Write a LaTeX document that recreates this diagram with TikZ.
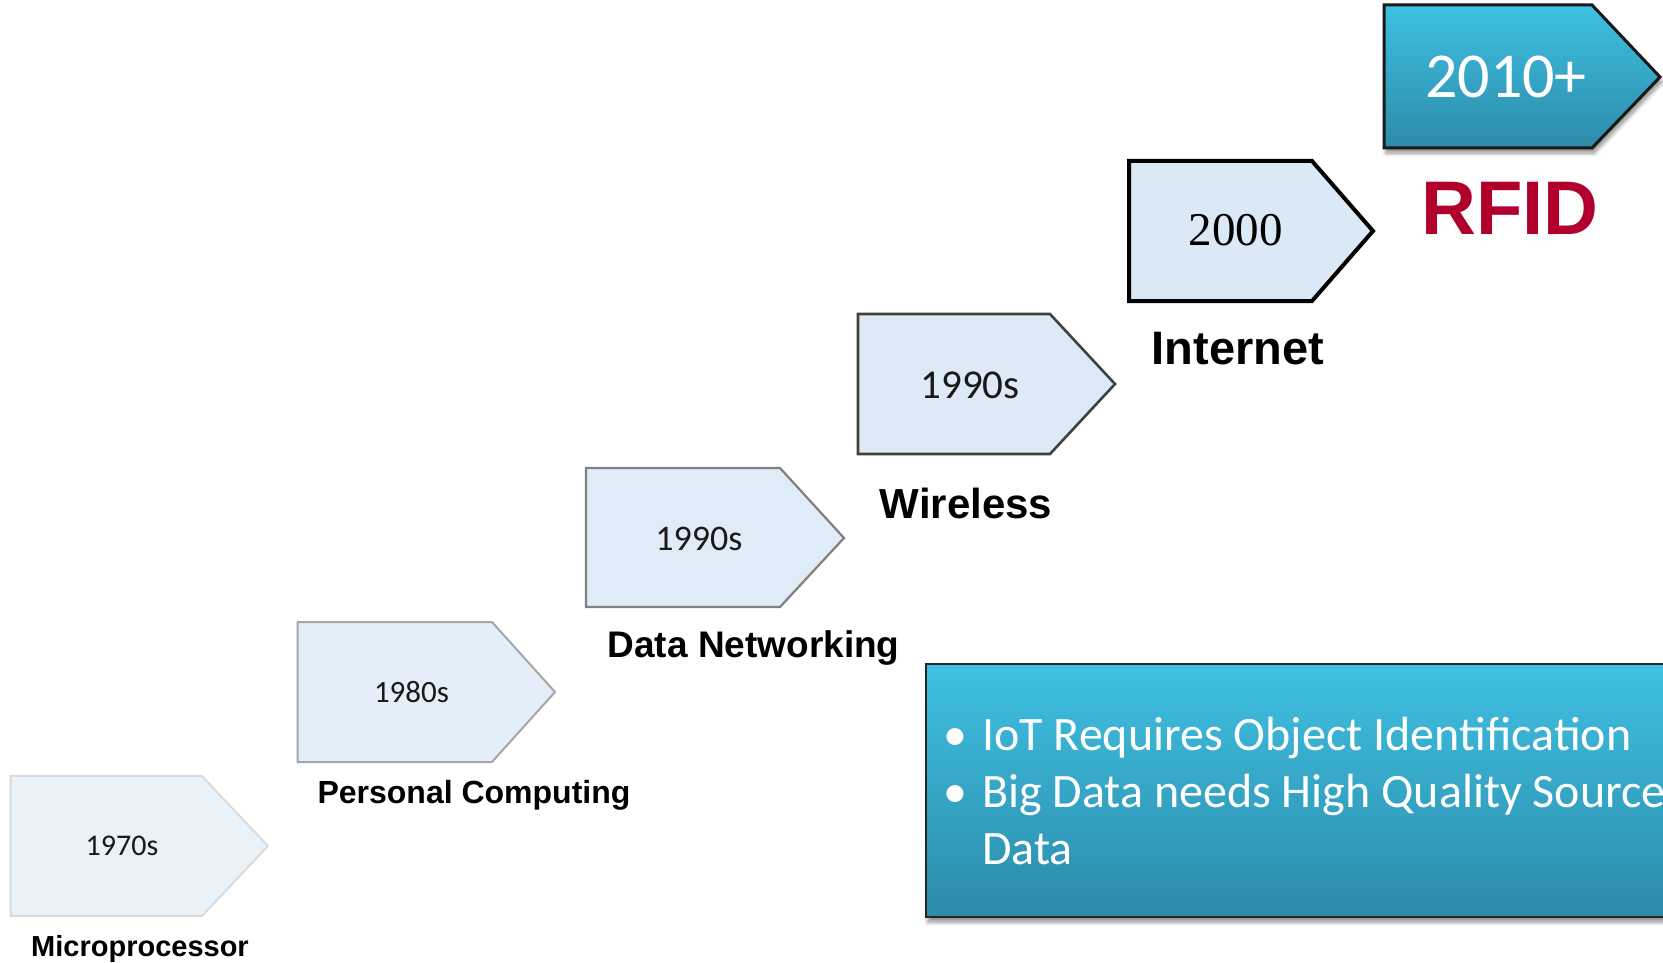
\documentclass[tikz,border=0pt]{standalone}
\usepackage{fontspec}
\usetikzlibrary{shadows.blur}
\newfontfamily\calib{Carlito}
\newfontfamily\arialf{Liberation Sans}
\newfontfamily\timesf{Liberation Serif}
\definecolor{rfidred}{HTML}{B1002B}
\definecolor{tealtop}{HTML}{3FC0E2}
\definecolor{tealbot}{HTML}{2C8BA9}
\tikzset{
  yeartxt/.style={font=\calib\fontsize{#1}{#1}\selectfont, text=black!90, inner sep=0pt},
  lbltxt/.style={font=\arialf\bfseries\fontsize{#1}{#1}\selectfont, text=black, inner sep=0pt},
  boxtxt/.style={font=\calib\fontsize{48}{48}\selectfont, text=white, inner sep=0pt, anchor=base west},
  pshadow/.style={blur shadow={shadow xshift=2pt, shadow yshift=-5pt, shadow opacity=45, shadow blur steps=8, shadow blur radius=4pt}}
}
\begin{document}
\begin{tikzpicture}[x=1pt,y=-1pt]
\useasboundingbox (0,0) rectangle (1663,963);
\clip (0,0) rectangle (1663,963);

% 1970s
\path[draw=black!15, line width=1.8pt, fill={rgb,255:red,233;green,241;blue,249}]
  (10.6,776) -- (202,776) -- (268,846) -- (202,916) -- (10.6,916) -- cycle;
\node[yeartxt=30] (y70) at (122,846) {1970s};
\node[lbltxt=29] (l70) at (140,949) {Microprocessor};

% 1980s
\path[draw=black!35, line width=2pt, fill={rgb,255:red,228;green,238;blue,248}]
  (297.7,622) -- (492,622) -- (555,692) -- (492,762) -- (297.7,762) -- cycle;
\node[yeartxt=31] (y80) at (411.5,692.5) {1980s};
\node[lbltxt=32] (l80) at (474,795) {Personal Computing};

% 1990s data networking
\path[draw=black!50, line width=2.2pt, fill={rgb,255:red,223;green,235;blue,247}]
  (586,468) -- (780,468) -- (844,538) -- (780,607) -- (586,607) -- cycle;
\node[yeartxt=36] (y90a) at (699,539) {1990s};
\node[lbltxt=37] (l90a) at (753.6,648) {Data Networking};

% 1990s wireless
\path[draw=black!75, line width=2.6pt, fill={rgb,255:red,221;green,233;blue,246}]
  (858,314) -- (1050,314) -- (1115,384) -- (1050,454) -- (858,454) -- cycle;
\node[yeartxt=41] (y90b) at (970,385) {1990s};
\node[lbltxt=42] (l90b) at (966,503.5) {Wireless};

% 2000
\path[draw=black, line width=4pt, fill={rgb,255:red,219;green,232;blue,245}]
  (1129,161) -- (1312,161) -- (1373,231) -- (1312,301) -- (1129,301) -- cycle;
\node[font=\timesf\fontsize{47}{47}\selectfont, inner sep=0pt] (y00) at (1235.6,230) {2000};
\node[lbltxt=47] (l00) at (1238,349) {Internet};

% 2010+
\path[pshadow, draw=black!90, line width=3pt, top color=tealtop, bottom color=tealbot]
  (1384,5) -- (1592,5) -- (1660,77) -- (1592,148) -- (1384,148) -- cycle;
\node[font=\calib\fontsize{64}{64}\selectfont, text=white, inner sep=0pt] (y10) at (1506,77) {2010+};
\node[font=\arialf\bfseries\fontsize{76}{76}\selectfont, text=rfidred, inner sep=0pt] (rfid) at (1510,208) {RFID};

% text box
\path[pshadow, draw=black!85, line width=2.5pt, top color=tealtop, bottom color=tealbot]
  (926,664) rectangle (1720,917);
\node[boxtxt] (b1) at (943,750) {•};
\node[boxtxt] (t1) at (982,750) {IoT Requires Object Identification};
\node[boxtxt] (b2) at (943,807) {•};
\node[boxtxt] (t2) at (982,807) {Big Data needs High Quality Source};
\node[boxtxt] (t3) at (982,864) {Data};
\end{tikzpicture}
\end{document}
